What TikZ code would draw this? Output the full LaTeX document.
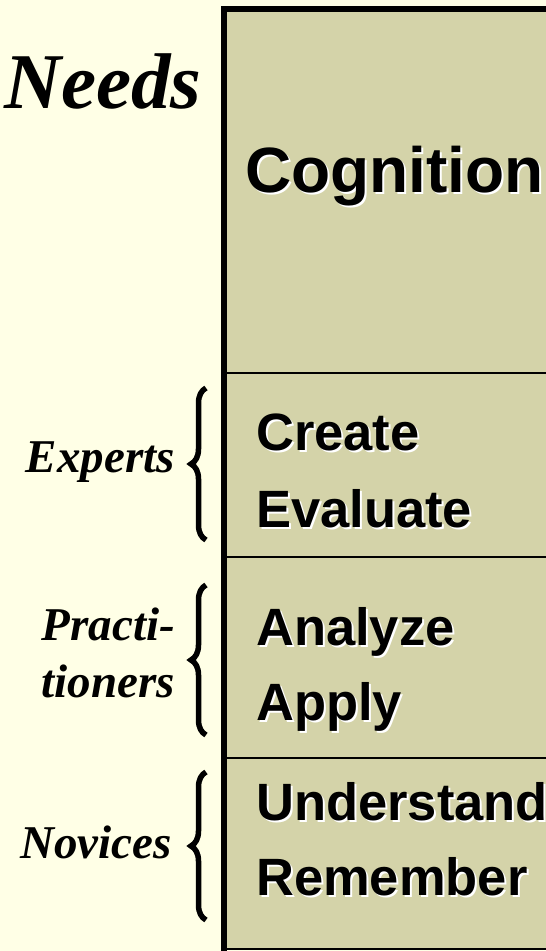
\documentclass[tikz,border=0pt]{standalone}
\usepackage{fontspec}
\setmainfont{Liberation Serif}
\setsansfont{Liberation Sans}
\usetikzlibrary{decorations.pathreplacing}

\definecolor{pagebg}{RGB}{255,255,230}
\definecolor{boxfill}{RGB}{212,211,169}

\tikzset{
  boxtext/.style={font=\sffamily\bfseries\fontsize{52.5}{77}\selectfont, inner sep=0pt, anchor=base west},
  grouptext/.style={font=\bfseries\itshape\fontsize{47}{57}\selectfont, inner sep=0pt, anchor=base east},
  groupbrace/.style={decorate, decoration={brace, amplitude=15pt, aspect=0.5}, line width=5.5pt},
  sepline/.style={line width=2pt}
}

% white drop shadow behind the box text
\newcommand{\boxlabel}[3]{%
  \node[boxtext, text=white] at ([shift={(2,2)}]#2) {#3};
  \node[boxtext] (#1) at (#2) {#3};}

\begin{document}
\begin{tikzpicture}[x=1pt,y=-1pt]
    \useasboundingbox (0,0) rectangle (546,951);
    \fill[pagebg] (0,0) rectangle (546,951);

    % Draw the box
    \fill[boxfill] (224,9) rectangle (546,949);
    \draw[line width=6pt] (224,951) -- (224,9) -- (546,9);
    \foreach \y in {373,557,758}
    \draw[sepline] (227,\y) -- (546,\y);
    \draw[sepline] (227,949) -- (546,949);

    % Heads
    \node[font=\bfseries\itshape\fontsize{79}{80}\selectfont, inner sep=0pt, anchor=base west] (needs) at (4,108) {Needs};
    \boxlabel{cognition}{245,192}{\fontsize{64}{70}\selectfont Cognition}

    % Levels
    \foreach \name/\y/\txt in {create/450/Create, evaluate/527/Evaluate,
        analyze/645/Analyze, apply/720/Apply,
        understand/820/Understand, remember/895/Remember}
    \boxlabel{\name}{256,\y}{\txt};

    % Groups
    \node[grouptext] (experts) at (175,472) {Experts};
    \node[grouptext, align=center, anchor=base east] (practi) at (175,697) {Practi-\\tioners};
    \node[grouptext] (novices) at (172,858) {Novices};
    \coordinate (expTop) at (206,388);
    \coordinate (expBot) at (206,540);
    \coordinate (praTop) at (206,585);
    \coordinate (praBot) at (206,735);
    \coordinate (novTop) at (206,772);
    \coordinate (novBot) at (206,920);
    \draw[groupbrace] (expBot) -- (expTop);
    \draw[groupbrace] (praBot) -- (praTop);
    \draw[groupbrace] (novBot) -- (novTop);
  \end{tikzpicture}
\end{document}
